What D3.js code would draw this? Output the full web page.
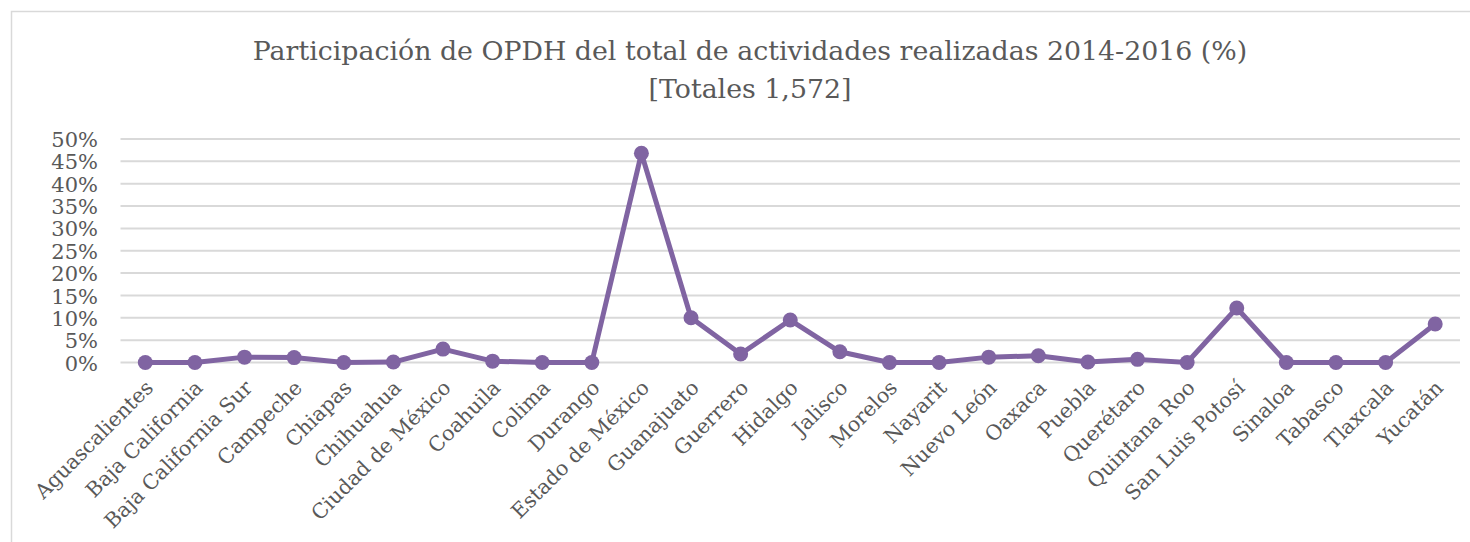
<!DOCTYPE html>
<html>
<head>
<meta charset="utf-8">
<script src="https://cdn.jsdelivr.net/npm/d3@7"></script>
<style>
body { margin:0; background:#fff; }
text { font-family: "DejaVu Serif", serif; fill:#595959; }
</style>
</head>
<body>
<div id="chart"></div>
<script>
var estados = ["Aguascalientes","Baja California","Baja California Sur","Campeche","Chiapas","Chihuahua","Ciudad de México","Coahuila","Colima","Durango","Estado de México","Guanajuato","Guerrero","Hidalgo","Jalisco","Morelos","Nayarit","Nuevo León","Oaxaca","Puebla","Querétaro","Quintana Roo","San Luis Potosí","Sinaloa","Tabasco","Tlaxcala","Yucatán"];
var participacion = [0,0,1.2,1.1,0,0.1,3.0,0.3,0,0,46.8,10.0,1.9,9.5,2.4,0,0,1.2,1.5,0.1,0.7,0,12.2,0,0,0,8.6];
var ticksY = [0,5,10,15,20,25,30,35,40,45,50];
var titulo = ["Participación de OPDH del total de actividades realizadas 2014-2016 (%)","[Totales 1,572]"];

var width = 1470, height = 542;
var margin = {top:139, left:120.5, right:10, bottom:179.5};

var svg = d3.select("#chart").append("svg")
	.attr("width",width)
	.attr("height",height);

svg.append("rect")
	.attr("x",11.5).attr("y",11.5)
	.attr("width",width).attr("height",height)
	.attr("fill","none").attr("stroke","#d9d9d9").attr("stroke-width",1.5);

svg.selectAll(".titulo").data(titulo)
	.enter().append("text")
	.attr("class","titulo")
	.attr("x",750)
	.attr("y",(d,i)=>60+i*38)
	.attr("text-anchor","middle")
	.style("font-size","26.8px")
	.text(d=>d);

var xscale = d3.scaleBand()
	.domain(estados)
	.range([margin.left,1460]);

var yscale = d3.scaleLinear()
	.domain([0,50])
	.range([362.5,margin.top]);

var g = svg.append("g");

// lineas de la cuadricula
g.selectAll(".grid").data(ticksY)
	.enter().append("line")
	.attr("x1",margin.left).attr("x2",1460)
	.attr("y1",d=>yscale(d)).attr("y2",d=>yscale(d))
	.attr("stroke","#d9d9d9").attr("stroke-width",2);

var yaxis = d3.axisLeft(yscale).tickValues(ticksY).tickFormat(d=>d+"%").tickSize(0).tickPadding(0);
var gy = g.append("g").attr("transform","translate(98,0)").call(yaxis);
gy.select(".domain").remove();
gy.selectAll("text").style("font-size","21px").style("font-family","DejaVu Serif").attr("fill","#595959").attr("dy","0.36em");

var xaxis = d3.axisBottom(xscale).tickSize(0).tickPadding(0);
var gx = g.append("g").attr("transform","translate(0,384)").call(xaxis);
gx.select(".domain").remove();
gx.selectAll("text")
	.style("font-size","20.5px").style("font-family","DejaVu Serif").attr("fill","#595959")
	.attr("text-anchor","end")
	.attr("dy","0.35em")
	.attr("transform","translate(4,0) rotate(-45)");

var linea = d3.line()
	.x((d,i)=>xscale(estados[i])+xscale.bandwidth()/2)
	.y(d=>yscale(d));

g.append("path").datum(participacion)
	.attr("d",linea)
	.attr("fill","none")
	.attr("stroke","#8064a2")
	.attr("stroke-width",5)
	.attr("stroke-linejoin","round");

g.selectAll(".punto").data(participacion)
	.enter().append("circle")
	.attr("cx",(d,i)=>xscale(estados[i])+xscale.bandwidth()/2)
	.attr("cy",d=>yscale(d))
	.attr("r",7.5)
	.attr("fill","#8064a2");
</script>
</body>
</html>
